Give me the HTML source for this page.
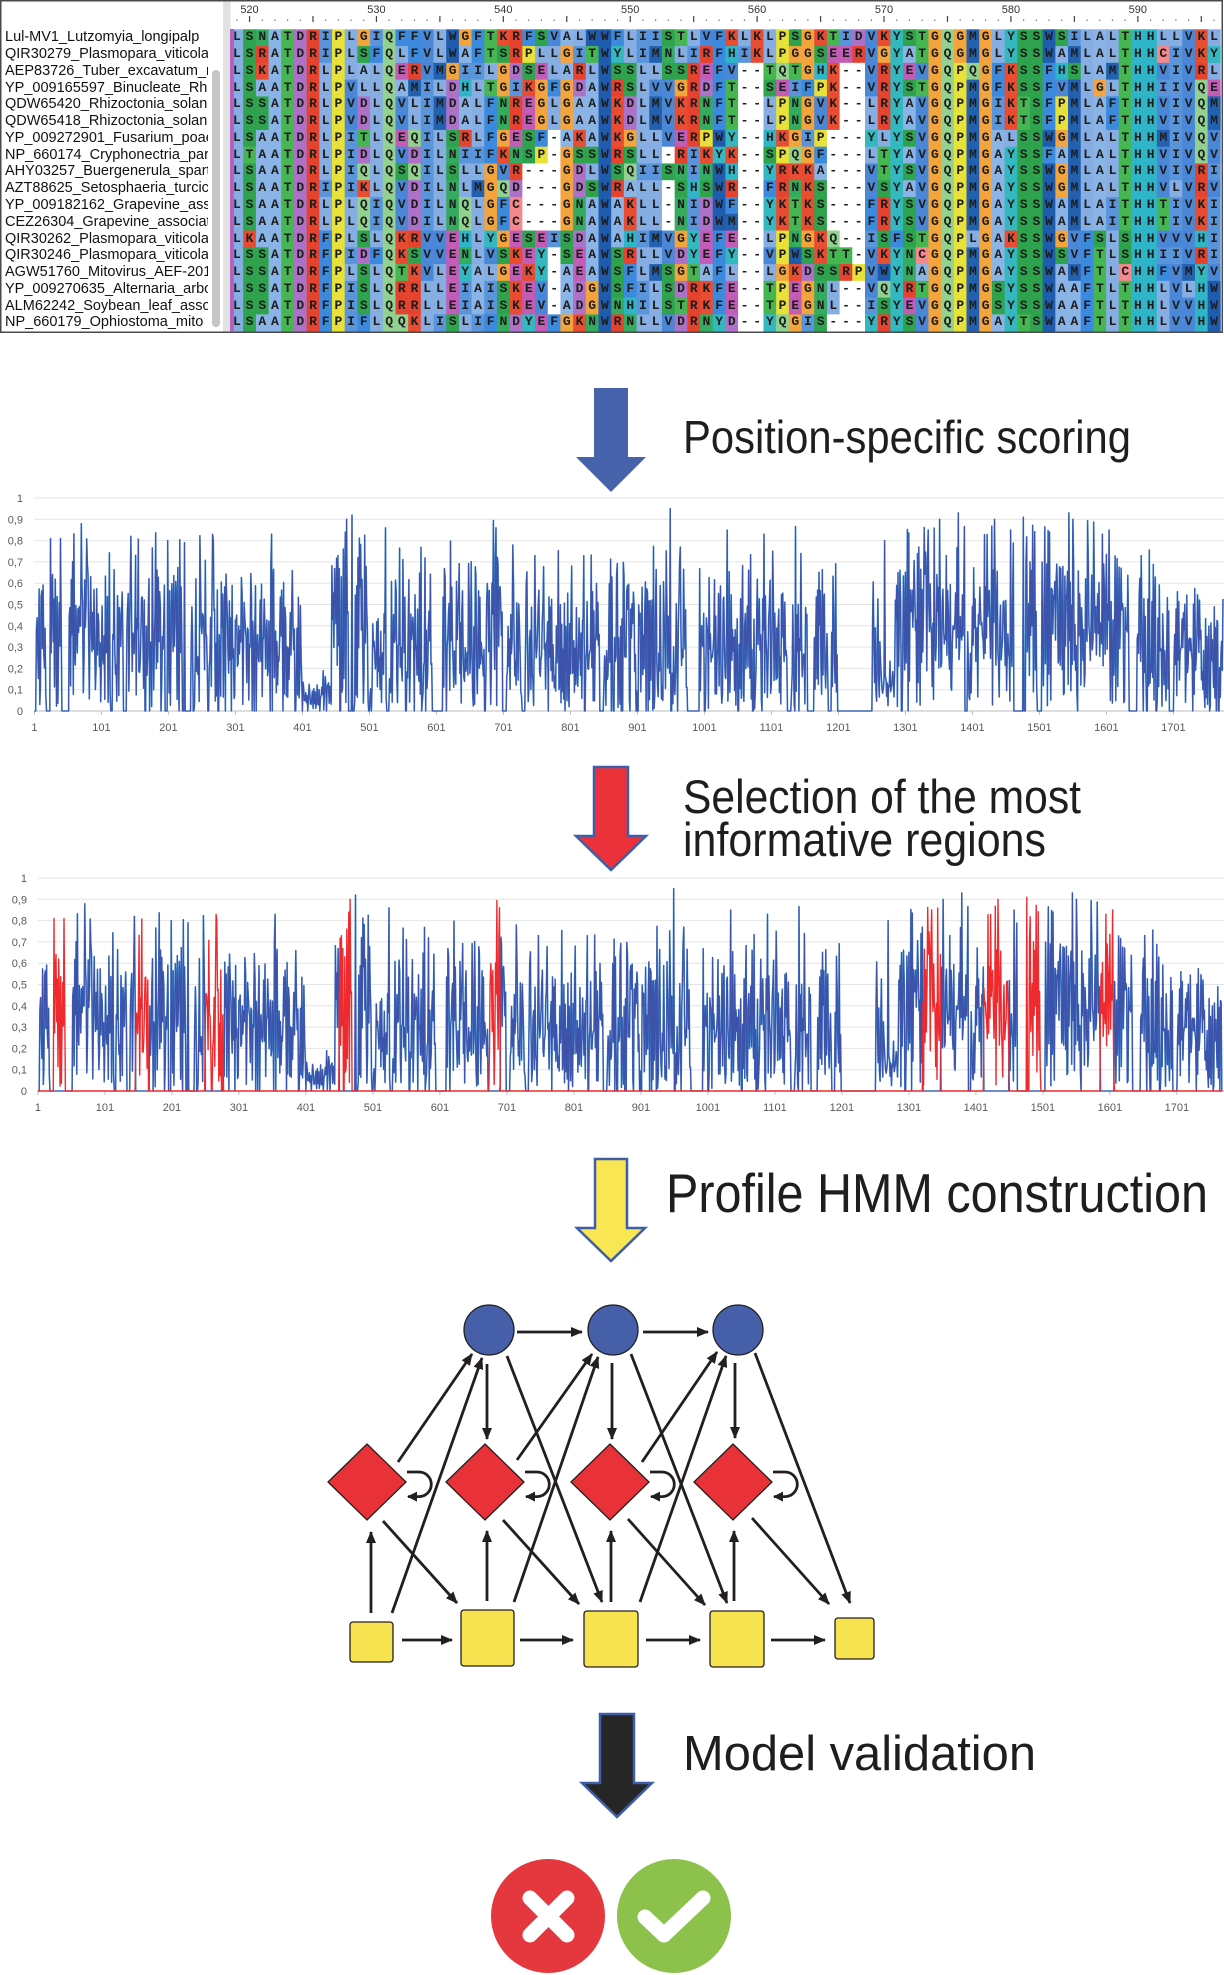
<!DOCTYPE html>
<html><head><meta charset="utf-8">
<style>
html,body{margin:0;padding:0;background:#fff;}
body{width:1224px;height:1975px;position:relative;overflow:hidden;font-family:"Liberation Sans",sans-serif;}
.nm{position:absolute;left:5px;width:203px;height:16.77px;line-height:16.77px;font-size:14.5px;color:#111;white-space:nowrap;overflow:hidden;}
.sq{position:absolute;left:230.5px;height:16.77px;line-height:16.77px;font-family:"Liberation Mono",monospace;font-weight:bold;font-size:13px;letter-spacing:4.89px;padding-left:2.45px;color:#1d1d1d;white-space:pre;}
svg text{font-family:"Liberation Sans",sans-serif;}
</style></head><body>
<svg id="main" width="1224" height="1975" viewBox="0 0 1224 1975" style="position:absolute;left:0;top:0">
<defs>
<marker id="ah" viewBox="0 0 12 10" markerWidth="12" markerHeight="10" refX="11" refY="5" orient="auto" markerUnits="userSpaceOnUse"><path d="M0,0 L12,5 L0,10 z" fill="#231f20"/></marker>
<marker id="ah2" viewBox="0 0 10 10" markerWidth="10" markerHeight="10" refX="9" refY="5" orient="auto" markerUnits="userSpaceOnUse"><path d="M0,0 L10,5 L0,10 z" fill="#231f20"/></marker>
</defs>
<!-- alignment panel -->
<rect x="0" y="0" width="1224" height="334" fill="#fff"/>
<g id="alnbg"></g>
<rect x="223" y="1" width="7.5" height="331" fill="#e2e2e2"/>
<rect x="212" y="70" width="8" height="257" rx="4" fill="#c6c6c6"/>
<rect x="230" y="29" width="4" height="302" fill="#b463c0"/>
<g id="ticks"></g>
<g font-size="11" fill="#333" text-anchor="middle">
<text x="249.5" y="13">520</text><text x="376.4" y="13">530</text><text x="503.3" y="13">540</text><text x="630.2" y="13">550</text><text x="757.1" y="13">560</text><text x="884" y="13">570</text><text x="1010.9" y="13">580</text><text x="1137.8" y="13">590</text>
</g>
<rect x="0.75" y="0.75" width="1221.5" height="331.5" fill="none" stroke="#4a4a4a" stroke-width="1.5"/>

<!-- chart 1 -->
<g id="grid1"></g>
<path id="c1a" fill="none" stroke="#3a8fd6" stroke-width="1.6" stroke-linejoin="round"/>
<path id="c1b" fill="none" stroke="#3d53aa" stroke-width="1.1" stroke-linejoin="round"/>
<g font-size="11" fill="#595959" text-anchor="end">
<text x="23" y="715">0</text><text x="23" y="693.7">0,1</text><text x="23" y="672.4">0,2</text><text x="23" y="651.1">0,3</text><text x="23" y="629.8">0,4</text><text x="23" y="608.5">0,5</text><text x="23" y="587.2">0,6</text><text x="23" y="565.9">0,7</text><text x="23" y="544.6">0,8</text><text x="23" y="523.3">0,9</text><text x="23" y="502">1</text>
</g>
<g font-size="11" fill="#595959" text-anchor="middle">
<text x="34.4" y="731">1</text><text x="101.4" y="731">101</text><text x="168.4" y="731">201</text><text x="235.4" y="731">301</text><text x="302.4" y="731">401</text><text x="369.4" y="731">501</text><text x="436.4" y="731">601</text><text x="503.4" y="731">701</text><text x="570.4" y="731">801</text><text x="637.4" y="731">901</text><text x="704.4" y="731">1001</text><text x="771.4" y="731">1101</text><text x="838.4" y="731">1201</text><text x="905.4" y="731">1301</text><text x="972.4" y="731">1401</text><text x="1039.4" y="731">1501</text><text x="1106.4" y="731">1601</text><text x="1173.4" y="731">1701</text>
</g>

<!-- chart 2 -->
<g id="grid2"></g>
<path id="c2a" fill="none" stroke="#3a8fd6" stroke-width="1.6" stroke-linejoin="round"/>
<path id="c2b" fill="none" stroke="#3d53aa" stroke-width="1.1" stroke-linejoin="round"/>
<path id="c2r" fill="none" stroke="#ee2a2f" stroke-width="1.4" stroke-linejoin="round"/>
<g font-size="11" fill="#595959" text-anchor="end">
<text x="27" y="1095">0</text><text x="27" y="1073.7">0,1</text><text x="27" y="1052.4">0,2</text><text x="27" y="1031.1">0,3</text><text x="27" y="1009.8">0,4</text><text x="27" y="988.5">0,5</text><text x="27" y="967.2">0,6</text><text x="27" y="945.9">0,7</text><text x="27" y="924.6">0,8</text><text x="27" y="903.3">0,9</text><text x="27" y="882">1</text>
</g>
<g font-size="11" fill="#595959" text-anchor="middle">
<text x="37.9" y="1111">1</text><text x="104.9" y="1111">101</text><text x="171.9" y="1111">201</text><text x="238.9" y="1111">301</text><text x="305.9" y="1111">401</text><text x="372.9" y="1111">501</text><text x="439.9" y="1111">601</text><text x="506.9" y="1111">701</text><text x="573.9" y="1111">801</text><text x="640.9" y="1111">901</text><text x="707.9" y="1111">1001</text><text x="774.9" y="1111">1101</text><text x="841.9" y="1111">1201</text><text x="908.9" y="1111">1301</text><text x="975.9" y="1111">1401</text><text x="1042.9" y="1111">1501</text><text x="1109.9" y="1111">1601</text><text x="1176.9" y="1111">1701</text>
</g>

<!-- big arrows -->
<polygon points="594,388 628,388 628,457 646,457 611,492 576,457 594,457" fill="#4562ab"/>
<polygon points="594,767 628,767 628,836 646,836 611,870 576,836 594,836" fill="#eb323a" stroke="#3e5ea8" stroke-width="2.5"/>
<polygon points="595,1159 627,1159 627,1228 645,1228 611,1261 577,1228 595,1228" fill="#f8e652" stroke="#3e5ea8" stroke-width="2.5"/>
<polygon points="600,1714 634,1714 634,1783 652,1783 617,1817 582,1783 600,1783" fill="#262626" stroke="#3e5ea8" stroke-width="2.5"/>

<!-- step labels -->
<g fill="#1e1e1e">
<text x="683" y="453" font-size="46" textLength="448" lengthAdjust="spacingAndGlyphs">Position-specific scoring</text>
<text x="683" y="813" font-size="47" textLength="398" lengthAdjust="spacingAndGlyphs">Selection of the most</text>
<text x="683" y="856" font-size="47" textLength="363" lengthAdjust="spacingAndGlyphs">informative regions</text>
<text x="666" y="1212" font-size="55" textLength="542" lengthAdjust="spacingAndGlyphs">Profile HMM construction</text>
<text x="683" y="1770" font-size="49" textLength="353" lengthAdjust="spacingAndGlyphs">Model validation</text>
</g>

<!-- HMM connectors -->
<g stroke="#231f20" stroke-width="2.8" fill="none">
<line x1="517" y1="1332" x2="582" y2="1332" marker-end="url(#ah)"/>
<line x1="643" y1="1332" x2="708" y2="1332" marker-end="url(#ah)"/>
<line x1="398" y1="1462" x2="472" y2="1354" marker-end="url(#ah)"/>
<line x1="392" y1="1613" x2="482" y2="1358" marker-end="url(#ah)"/>
<line x1="487" y1="1364" x2="487" y2="1439" marker-end="url(#ah)"/>
<line x1="507" y1="1356" x2="602" y2="1602" marker-end="url(#ah)"/>
<line x1="383" y1="1521" x2="457" y2="1603" marker-end="url(#ah)"/>
<line x1="371" y1="1613" x2="371" y2="1532" marker-end="url(#ah)"/>
<line x1="402" y1="1640" x2="452" y2="1640" marker-end="url(#ah)"/>
<line x1="517" y1="1460" x2="592" y2="1354" marker-end="url(#ah)"/>
<line x1="514" y1="1602" x2="598" y2="1357" marker-end="url(#ah)"/>
<line x1="503" y1="1520" x2="579" y2="1604" marker-end="url(#ah)"/>
<line x1="487" y1="1601" x2="487" y2="1531" marker-end="url(#ah)"/>
<line x1="520" y1="1640" x2="573" y2="1640" marker-end="url(#ah)"/>
<line x1="612" y1="1363" x2="612" y2="1439" marker-end="url(#ah)"/>
<line x1="631" y1="1354" x2="727" y2="1603" marker-end="url(#ah)"/>
<line x1="642" y1="1462" x2="717" y2="1352" marker-end="url(#ah)"/>
<line x1="640" y1="1602" x2="726" y2="1356" marker-end="url(#ah)"/>
<line x1="735" y1="1363" x2="735" y2="1438" marker-end="url(#ah)"/>
<line x1="755" y1="1353" x2="850" y2="1603" marker-end="url(#ah)"/>
<line x1="628" y1="1519" x2="705" y2="1605" marker-end="url(#ah)"/>
<line x1="752" y1="1518" x2="829" y2="1604" marker-end="url(#ah)"/>
<line x1="611" y1="1602" x2="611" y2="1531" marker-end="url(#ah)"/>
<line x1="734" y1="1601" x2="734" y2="1531" marker-end="url(#ah)"/>
<line x1="646" y1="1640" x2="700" y2="1640" marker-end="url(#ah)"/>
<line x1="771" y1="1640" x2="825" y2="1640" marker-end="url(#ah)"/>
<path d="M407,1472 L419,1472 A12.3,12.3 0 0 1 419,1496.6 L408,1496.6" marker-end="url(#ah2)"/>
<path d="M525,1472 L537,1472 A12.3,12.3 0 0 1 537,1496.6 L526,1496.6" marker-end="url(#ah2)"/>
<path d="M650,1472 L662,1472 A12.3,12.3 0 0 1 662,1496.6 L651,1496.6" marker-end="url(#ah2)"/>
<path d="M773,1472 L785,1472 A12.3,12.3 0 0 1 785,1496.6 L774,1496.6" marker-end="url(#ah2)"/>
</g>
<!-- HMM nodes -->
<g stroke="#231f20" stroke-width="1.3">
<circle cx="489" cy="1330" r="25" fill="#4560a9"/>
<circle cx="613" cy="1330" r="25" fill="#4560a9"/>
<circle cx="738" cy="1330" r="25" fill="#4560a9"/>
<polygon points="367,1444 406,1482 367,1520 328,1482" fill="#e93237"/>
<polygon points="485,1444 524,1482 485,1520 446,1482" fill="#e93237"/>
<polygon points="610,1444 649,1482 610,1520 571,1482" fill="#e93237"/>
<polygon points="733,1444 772,1482 733,1520 694,1482" fill="#e93237"/>
<rect x="350" y="1622" width="43" height="40" rx="3" fill="#f6e34f"/>
<rect x="461" y="1610" width="53" height="56" rx="3" fill="#f6e34f"/>
<rect x="584" y="1611" width="54" height="56" rx="3" fill="#f6e34f"/>
<rect x="710" y="1611" width="54" height="56" rx="3" fill="#f6e34f"/>
<rect x="835" y="1618" width="39" height="41" rx="3" fill="#f6e34f"/>
</g>

<!-- validation icons -->
<circle cx="548" cy="1916" r="57" fill="#e5373e"/>
<path d="M530,1898 L567,1935 M567,1898 L530,1935" stroke="#fff" stroke-width="15" stroke-linecap="round" fill="none"/>
<circle cx="674" cy="1916" r="57" fill="#8cc14c"/>
<path d="M645,1917 L664,1935 L703,1898" stroke="#fff" stroke-width="15" stroke-linecap="round" stroke-linejoin="round" fill="none"/>
</svg>

<div class="nm" style="top:29.3px">Lul-MV1_Lutzomyia_longipalp</div>
<div class="nm" style="top:46.07px">QIR30279_Plasmopara_viticola</div>
<div class="nm" style="top:62.84px">AEP83726_Tuber_excavatum_r</div>
<div class="nm" style="top:79.61px">YP_009165597_Binucleate_Rhi</div>
<div class="nm" style="top:96.38px">QDW65420_Rhizoctonia_solan</div>
<div class="nm" style="top:113.15px">QDW65418_Rhizoctonia_solan</div>
<div class="nm" style="top:129.92px">YP_009272901_Fusarium_poae</div>
<div class="nm" style="top:146.69px">NP_660174_Cryphonectria_par</div>
<div class="nm" style="top:163.46px">AHY03257_Buergenerula_spart</div>
<div class="nm" style="top:180.23px">AZT88625_Setosphaeria_turcic</div>
<div class="nm" style="top:197px">YP_009182162_Grapevine_asso</div>
<div class="nm" style="top:213.77px">CEZ26304_Grapevine_associat</div>
<div class="nm" style="top:230.54px">QIR30262_Plasmopara_viticola</div>
<div class="nm" style="top:247.31px">QIR30246_Plasmopara_viticola</div>
<div class="nm" style="top:264.08px">AGW51760_Mitovirus_AEF-201</div>
<div class="nm" style="top:280.85px">YP_009270635_Alternaria_arbo</div>
<div class="nm" style="top:297.62px">ALM62242_Soybean_leaf_asso</div>
<div class="nm" style="top:314.39px">NP_660179_Ophiostoma_mito</div>

<div class="sq" style="top:29.3px">LSNATDRIPLGIQFFVLWGFTKRFSVALWWFLIISTLVFKLKLPSGKTIDVKYSTGQGMGLYSSWSILALTHHLLVKL</div>
<div class="sq" style="top:46.07px">LSRATDRIPLSFQLFVLWAFTSRPLLGITWYLIMNLIRFHIKLPGGSEERVGYATGQGMGLYSSWAMLALTHHCIVKY</div>
<div class="sq" style="top:62.84px">LSKATDRLPLALQERVMGIILGDSELARLWSSLLSSREFV--TQTGHK--VRYEVGQPQGFKSSFHSLAMTHHVIVRL</div>
<div class="sq" style="top:79.61px">LSAATDRLPVLLQAMILDHLTGIKGFGDAWRSLVVGRDFT--SEIFPK--VRYSTGQPMGFKSSFVMLGLTHHIIVQE</div>
<div class="sq" style="top:96.38px">LSSATDRLPVDLQVLIMDALFNREGLGAAWKDLMVKRNFT--LPNGVK--LRYAVGQPMGIKTSFPMLAFTHHVIVQM</div>
<div class="sq" style="top:113.15px">LSSATDRLPVDLQVLIMDALFNREGLGAAWKDLMVKRNFT--LPNGVK--LRYAVGQPMGIKTSFPMLAFTHHVIVQM</div>
<div class="sq" style="top:129.92px">LSAATDRLPITLQEQILSRLFGESF-AKAWKGLLVERPWY--HKGIP---YLYSVGQPMGALSSWGMLALTHHMIVQV</div>
<div class="sq" style="top:146.69px">LTAATDRLPIDLQVDILNIIFKNSP-GSSWRSLL-RIKYK--SPQGF---LTYAVGQPMGAYSSFAMLALTHHVIVQV</div>
<div class="sq" style="top:163.46px">LSAATDRLPIQLQSQILSLLGVR---GDLWSQIISNINWH--YRKKA---VTYSVGQPMGAYSSWGMLALTHHVIVRI</div>
<div class="sq" style="top:180.23px">LSAATDRIPIKLQVDILNLMGQD---GDSWRALL-SHSWR--FRNKS---VSYAVGQPMGAYSSWGMLALTHHVLVRV</div>
<div class="sq" style="top:197px">LSAATDRLPLQIQVDILNQLGFC---GNAWAKLL-NIDWF--YKTKS---FRYSVGQPMGAYSSWAMLAITHHTIVKI</div>
<div class="sq" style="top:213.77px">LSAATDRLPLQIQVDILNQLGFC---GNAWAKLL-NIDWM--YKTKS---FRYSVGQPMGAYSSWAMLAITHHTIVKI</div>
<div class="sq" style="top:230.54px">LKAATDRFPLSLQKRVVEHLYGESEISDAWAHIMVGYEFE--LPNGKQ--ISFSTGQPLGAKSSWGVFSLSHHVVVHI</div>
<div class="sq" style="top:247.31px">LSSATDRFPIDFQKSVVENLVSKEY-SEAWSRLLVDYEFY--VPWSKTT-VKYNCGQPMGAYSSWSVFTLSHHIIVRI</div>
<div class="sq" style="top:264.08px">LSSATDRFPLSLQTKVLEYALGEKY-AEAWSFLMSGTAFL--LGKDSSRPVWYNAGQPMGAYSSWAMFTLCHHFVMYV</div>
<div class="sq" style="top:280.85px">LSSATDRFPISLQRRLLEIAISKEV-ADGWSFILSDRKFE--TPEGNL--VQYRTGQPMGSYSSWAAFTLTHHLVLHW</div>
<div class="sq" style="top:297.62px">LSSATDRFPISLQRRLLEIAISKEV-ADGWNHILSTRKFE--TPEGNL--ISYEVGQPMGSYSSWAAFTLTHHLVVHW</div>
<div class="sq" style="top:314.39px">LSAATDRFPIFLQQKLISLIFNDYEFGKNWRNLLVDRNYD--YQGIS---YRYSVGQPMGAYTSWAAFTLTHHLVVHW</div>

<script>
(function(){
var NS='http://www.w3.org/2000/svg';
function el(tag,attrs,parent){var e=document.createElementNS(NS,tag);for(var k in attrs)e.setAttribute(k,attrs[k]);parent.appendChild(e);return e;}
var col={A:'#8ab4e6',L:'#86aee3',I:'#5a95dc',V:'#4a87d6',M:'#2360ad',F:'#3c8ade',W:'#1f5cae',C:'#f3898b',G:'#f3a43c',P:'#e7e13a',S:'#2ea24c',T:'#46b653',N:'#34ab5e',Q:'#92d18f',D:'#ad72c8',E:'#c25cb6',K:'#e84d31',R:'#e6432f',H:'#2fb5c8',Y:'#33b8bf','-':'#ffffff'};
var CW=12.69,RH=16.77,X0=230.5,Y0=29.3;
var g=document.getElementById('alnbg');
var rows=document.querySelectorAll('.sq');
for(var r=0;r<rows.length;r++){var s=rows[r].textContent;for(var c=0;c<s.length;c++){var x=X0+c*CW;if(x>1222)break;el('rect',{x:x.toFixed(2),y:(Y0+r*RH).toFixed(2),width:(Math.min(CW+0.4,1222-x)).toFixed(2),height:(RH+0.4).toFixed(2),fill:col[s[c]]||'#fff'},g);}}
var tg=document.getElementById('ticks');
for(var c=0;c<78;c++){var pos=519+c;var x=X0+(c+0.5)*CW;if(pos%5==0)el('rect',{x:(x-0.6).toFixed(2),y:16,width:1.2,height:6,fill:'#444'},tg);else el('rect',{x:(x-0.6).toFixed(2),y:19.5,width:1.2,height:1.5,fill:'#777'},tg);}

function mulberry32(a){return function(){a|=0;a=a+0x6D2B79F5|0;var t=Math.imul(a^a>>>15,1|a);t=t+Math.imul(t^t>>>7,61|t)^t;return((t^t>>>14)>>>0)/4294967296;};}
var rnd=mulberry32(20231);
function gauss(){var u=rnd()||1e-9,v=rnd();return Math.sqrt(-2*Math.log(u))*Math.cos(2*Math.PI*v);}
var segs=[[1,60,.45,.17],[60,130,.38,.15],[130,300,.33,.18],[300,400,.30,.17],[400,445,.07,.05],[445,500,.45,.19],[500,680,.30,.18],[680,700,.5,.12],[700,880,.26,.15],[880,1200,.30,.18],[1200,1252,0,0],[1252,1265,.3,.15],[1265,1285,.12,.05],[1285,1640,.42,.17],[1640,1800,.28,.16]];
function seg(i){for(var k=0;k<segs.length;k++){if(i>=segs[k][0]&&i<segs[k][1])return segs[k];}return segs[segs.length-1];}
var N=1775,data=[0];var prev=0;
for(var i=1;i<=N;i++){var sg=seg(i),m=sg[2],sd=sg[3];var v;
 if(sd===0){v=0;prev=0;}else{var d=-0.25*prev+gauss()*sd;prev=d;v=m+d;var q=rnd();
  if(sd>0.08){if(q<0.08)v=m+0.2+rnd()*0.3;else if(q<0.16)v=0.02+rnd()*0.1;}}
 if(v<0)v=0;if(v>0.9)v=0.9;data.push(v);}
var zeros=[[1,3],[19,24],[42,52],[115,117],[134,138],[166,167],[196,200],[222,233],[238,239],[260,261],[275,276],[390,391],[457,458],[470,478],[500,501],[527,530],[555,556],[595,610],[673,674],[700,705],[729,733],[822,823],[845,850],[865,866],[901,902],[951,952],[976,993],[1051,1052],[1073,1074],[1125,1130],[1155,1164],[1187,1190],[1207,1251],[1295,1296],[1390,1393],[1463,1480],[1498,1504],[1635,1646],[1661,1662],[1675,1676],[1695,1701],[1768,1769]];
zeros.forEach(function(z){for(var i=z[0];i<=z[1]&&i<=N;i++)data[i]=0;});
var spikes=[[25,.81],[40,.81],[145,.82],[200,.8],[225,.79],[268,.8],[355,.83],[465,.84],[475,.92],[525,.86],[690,.86],[715,.78],[950,.95],[965,.77],[1035,.85],[1090,.83],[1270,.8],[1335,.85],[1380,.93],[1458,.85],[1477,.91],[1545,.93],[1595,.83],[1605,.85]];
spikes.forEach(function(s){data[s[0]]=s[1];});

function path(x0,y0,vals){var d='';for(var i=1;i<=N;i++){var x=x0+(i-1)*0.67;if(x>1223)break;var y=y0-vals[i]*213;d+=(i==1?'M':'L')+x.toFixed(1)+' '+y.toFixed(1);}return d;}
function grid(id,x0,y0){var gg=document.getElementById(id);
 for(var k=1;k<=10;k++){var y=y0-k*21.3;el('line',{x1:x0,x2:1224,y1:y.toFixed(1),y2:y.toFixed(1),stroke:'#e4e4e4','stroke-width':1},gg);}
 el('line',{x1:x0,x2:1224,y1:y0,y2:y0,stroke:'#bdbdbd','stroke-width':1},gg);
 for(var p=1;p<=1701;p+=100){var x=x0+(p-1)*0.67;el('line',{x1:x.toFixed(1),x2:x.toFixed(1),y1:y0,y2:y0+4,stroke:'#bdbdbd','stroke-width':1},gg);}
}
grid('grid1',34.4,711);grid('grid2',37.9,1091);
var p1=path(34.4,711,data);
document.getElementById('c1a').setAttribute('d',p1);
document.getElementById('c1b').setAttribute('d',p1);
var regions=[[23,43],[147,167],[251,277],[451,474],[673,690],[1322,1348],[1413,1450],[1477,1497],[1587,1607]];
function inReg(i){for(var k=0;k<regions.length;k++){if(i>=regions[k][0]&&i<=regions[k][1])return true;}return false;}
var blue=[0],red=[0];
for(var i=1;i<=N;i++){if(inReg(i)){blue.push(0);red.push(data[i]);}else{blue.push(data[i]);red.push(0);}}
var p2=path(37.9,1091,blue);
document.getElementById('c2a').setAttribute('d',p2);
document.getElementById('c2b').setAttribute('d',p2);
document.getElementById('c2r').setAttribute('d',path(37.9,1091,red));
})();
</script>
</body></html>
